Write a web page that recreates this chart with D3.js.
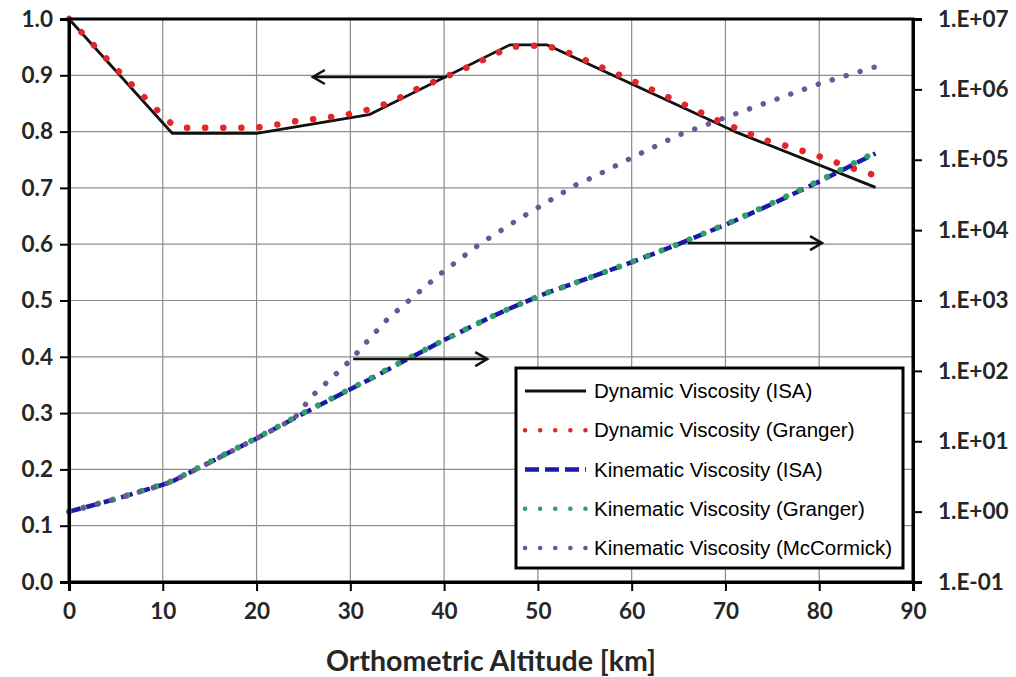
<!DOCTYPE html>
<html>
<head>
<meta charset="utf-8">
<script src="https://cdn.jsdelivr.net/npm/d3@7"></script>
<style>
  body { margin: 0; background: #fff; }
  svg { display: block; }
  .tick-label { font-family: Lato, "Open Sans", sans-serif; font-weight: 700; font-size: 22.5px; fill: #262626; }
  .legend-text { font-family: "Liberation Sans", Arial, sans-serif; font-size: 20.5px; fill: #000; }
</style>
</head>
<body>
<div id="chart"></div>
<script>
// altitude [km] and dynamic viscosity ratio (left axis)
var dynIsaAlt = [0, 11, 20, 32, 47, 51, 71, 86];
var dynIsaVal = [1.0, 0.797, 0.797, 0.83, 0.954, 0.954, 0.80, 0.701];

var dynGrAlt = [0, 5, 10, 11, 12, 20, 22, 24, 27, 29, 31, 33, 35, 37, 40, 43, 45, 47, 49, 51, 53, 56, 60, 63, 66, 69, 72, 74, 76, 78, 80, 83, 85, 86];
var dynGrVal = [1.0, 0.912, 0.828, 0.813, 0.807, 0.807, 0.812, 0.818, 0.824, 0.828, 0.835, 0.844, 0.858, 0.875, 0.896, 0.918, 0.934, 0.950, 0.953, 0.952, 0.942, 0.920, 0.891, 0.868, 0.845, 0.821, 0.800, 0.786, 0.777, 0.767, 0.756, 0.738, 0.727, 0.722];

// kinematic viscosity ratio (right axis, log)
var kinAlt = [0, 5, 10, 11, 15, 20, 25, 30, 32, 35, 40, 45, 47, 50, 51, 55, 60, 65, 70, 71, 75, 80, 86];
var kinIsaVal = [1, 1.51, 2.41, 2.68, 5.0, 10.96, 24.8, 54.9, 75, 123, 274, 583, 770, 1137, 1290, 1993, 3500, 6340, 11900, 13600, 23600, 48900, 123000];
var kinGrVal = [1, 1.52, 2.44, 2.72, 5.07, 11.1, 25.3, 55.4, 76, 125, 275, 585, 772, 1137, 1292, 1990, 3520, 6350, 12100, 13800, 24300, 50300, 128000];

var mcAlt = [0, 5, 10, 11, 15, 20, 24, 26, 28, 30, 32, 34, 36, 38, 40, 42, 44, 46, 48, 50, 52, 54, 56, 60, 65, 70, 75, 80, 86];
var mcVal = [1, 1.51, 2.41, 2.68, 5.0, 10.96, 21, 45, 79, 141, 282, 550, 933, 1580, 2630, 4170, 6610, 9770, 14500, 20900, 30200, 43600, 57500, 107000, 224000, 398000, 692000, 1200000, 2090000];

var xTicks = [0, 10, 20, 30, 40, 50, 60, 70, 80, 90];
var yLeftTicks = [0, 0.1, 0.2, 0.3, 0.4, 0.5, 0.6, 0.7, 0.8, 0.9, 1.0];
var yRightTicks = [1e-1, 1e0, 1e1, 1e2, 1e3, 1e4, 1e5, 1e6, 1e7];
var yRightLabels = ["1.E-01", "1.E+00", "1.E+01", "1.E+02", "1.E+03", "1.E+04", "1.E+05", "1.E+06", "1.E+07"];

var legendNames = ["Dynamic Viscosity (ISA)", "Dynamic Viscosity (Granger)", "Kinematic Viscosity (ISA)", "Kinematic Viscosity (Granger)", "Kinematic Viscosity (McCormick)"];

// arrows: [from km, to km, left-axis value]
var arrows = [[40.3, 26.0, 0.897], [30.3, 44.6, 0.396], [66.0, 80.3, 0.602]];

var W = 1016, H = 677;
var svg = d3.select("#chart").append("svg").attr("width", W).attr("height", H);

var x = d3.scaleLinear().domain([0, 90]).range([69, 913]);
var yL = d3.scaleLinear().domain([0, 1]).range([582, 19]);
var yR = d3.scaleLog().domain([0.1, 1e7]).range([582, 19]);

// grid
svg.append("g").selectAll("line").data(xTicks.slice(1, -1)).enter().append("line")
    .attr("x1", function(d){ return x(d); }).attr("x2", function(d){ return x(d); })
    .attr("y1", yL(0)).attr("y2", yL(1))
    .attr("stroke", "#8c8c8c").attr("stroke-width", 1.2);
svg.append("g").selectAll("line").data(yLeftTicks.slice(1, -1)).enter().append("line")
    .attr("x1", x(0)).attr("x2", x(90))
    .attr("y1", function(d){ return yL(d); }).attr("y2", function(d){ return yL(d); })
    .attr("stroke", "#8c8c8c").attr("stroke-width", 1.2);

var series = [
    {alt: dynIsaAlt, val: dynIsaVal, y: yL, color: "#111", width: 2.8, dash: null, cap: "butt"},
    {alt: dynGrAlt, val: dynGrVal, y: yL, color: "#e3262a", width: 6.5, dash: "0.1 18", cap: "round"},
    {alt: kinAlt, val: kinIsaVal, y: yR, color: "#1a1aa8", width: 4.5, dash: "12 6", cap: "butt"},
    {alt: kinAlt, val: kinGrVal, y: yR, color: "#2e9e6a", width: 6, dash: "0.1 15", cap: "round"},
    {alt: mcAlt, val: mcVal, y: yR, color: "#6b5698", width: 5.4, dash: "0.1 14.5", cap: "round"}
];

series.forEach(function(s){
    var pts = s.alt.map(function(a, i){ return [a, s.val[i]]; });
    var line = d3.line().x(function(d){ return x(d[0]); }).y(function(d){ return s.y(d[1]); });
    svg.append("path").datum(pts)
        .attr("d", line)
        .attr("fill", "none")
        .attr("stroke", s.color)
        .attr("stroke-width", s.width)
        .attr("stroke-linecap", s.cap)
        .attr("stroke-linejoin", "round")
        .attr("stroke-dasharray", s.dash);
});

// arrows
arrows.forEach(function(a){
    var x1 = x(a[0]), x2 = x(a[1]), yy = yL(a[2]);
    var dir = x2 > x1 ? 1 : -1;
    svg.append("line").attr("x1", x1).attr("x2", x2).attr("y1", yy).attr("y2", yy)
        .attr("stroke", "#111").attr("stroke-width", 2.5);
    svg.append("path")
        .attr("d", "M" + (x2 - dir * 12) + "," + (yy - 7) + "L" + x2 + "," + yy + "L" + (x2 - dir * 12) + "," + (yy + 7))
        .attr("fill", "none").attr("stroke", "#111").attr("stroke-width", 2.5);
});

// frame
svg.append("rect").attr("x", x(0)).attr("y", yL(1)).attr("width", x(90) - x(0)).attr("height", yL(0) - yL(1))
    .attr("fill", "none").attr("stroke", "#000").attr("stroke-width", 3);

// axes
var gl = svg.append("g").attr("transform", "translate(" + x(0) + ",0)")
    .call(d3.axisLeft(yL).tickValues(yLeftTicks).tickFormat(d3.format(".1f")).tickSize(9).tickPadding(7));
var gr = svg.append("g").attr("transform", "translate(" + x(90) + ",0)")
    .call(d3.axisRight(yR).tickValues(yRightTicks).tickFormat(function(d, i){ return yRightLabels[i]; }).tickSize(9).tickPadding(16));
var gb = svg.append("g").attr("transform", "translate(0," + yL(0) + ")")
    .call(d3.axisBottom(x).tickValues(xTicks).tickFormat(d3.format("d")).tickSize(9).tickPadding(12));

[gl, gr, gb].forEach(function(g){
    g.select(".domain").attr("stroke", "#000").attr("stroke-width", 3);
    g.selectAll(".tick line").attr("stroke", "#000").attr("stroke-width", 2);
    g.selectAll(".tick text").attr("class", "tick-label").attr("fill", "#262626");
});

svg.append("text").attr("x", (x(0) + x(90)) / 2).attr("y", 671)
    .attr("text-anchor", "middle")
    .style("font-family", "Lato, 'Open Sans', sans-serif").style("font-weight", 700).style("font-size", "28.5px").style("fill", "#262626")
    .text("Orthometric Altitude [km]");

// legend
var lg = svg.append("g");
lg.append("rect").attr("x", 516).attr("y", 368).attr("width", 387).attr("height", 200)
    .attr("fill", "#fff").attr("stroke", "#000").attr("stroke-width", 3);
var rowY = d3.scalePoint().domain(legendNames).range([391, 548]);
legendNames.forEach(function(n, i){
    var s = series[i], yy = rowY(n);
    lg.append("line").attr("x1", 525).attr("x2", 586).attr("y1", yy).attr("y2", yy)
        .attr("stroke", s.color).attr("stroke-width", i == 0 ? 2.8 : 4.5)
        .attr("stroke-linecap", s.cap)
        .attr("stroke-dasharray", i == 0 ? null : (i == 2 ? "14 6" : "0.1 15"));
    lg.append("text").attr("class", "legend-text").attr("x", 594).attr("y", yy + 7).text(n);
});
</script>
</body>
</html>
